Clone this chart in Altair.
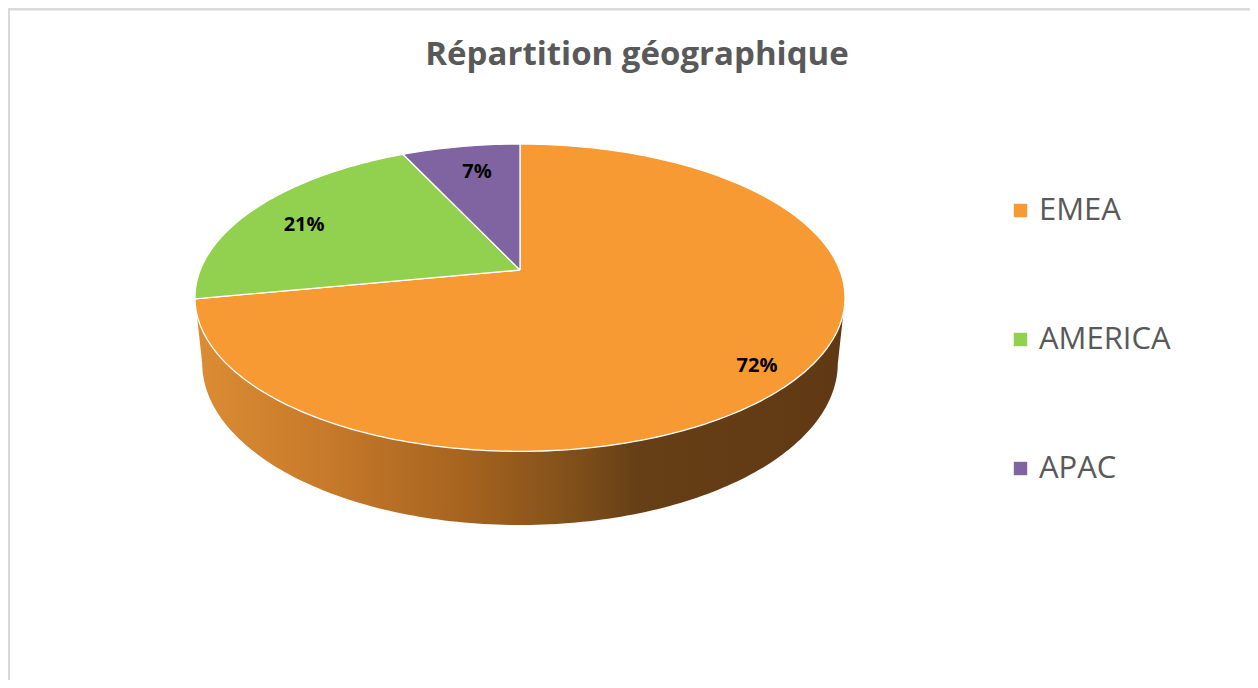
import numpy as np
import pandas as pd
import altair as alt

# ---- data ----
regions = ["EMEA", "AMERICA", "APAC"]
values = [72, 21, 7]
colors = ["#F89A33", "#92D050", "#8064A2"]
title_text = "Répartition géographique"

# ---- layout / projection (style, not data) ----
W, H = 1242, 672
CX, CY = 512, 262          # centre of the top face in view coords
D, F = 4.916, 1571.8       # camera distance and focal (radius = 1)
SIN = 0.465
COS = float(np.sqrt(1 - SIN ** 2))
DEPTH = 0.2334             # thickness of the pie
LABEL_R = 0.84


def proj(theta_deg, r=1.0, z=0.0):
    t = np.radians(theta_deg)
    X = r * np.sin(t)
    Y = -r * np.cos(t)
    d = D - Y * COS - z * SIN
    return CX + F * X / d, CY + F * (Y * SIN - z * COS) / d


total = float(sum(values))
starts = np.cumsum([0] + values[:-1]) / total * 360.0
ends = np.cumsum(values) / total * 360.0

# top-face slices
rows = []
lab_rows = []
for reg, v, a0, a1 in zip(regions, values, starts, ends):
    n = max(int((a1 - a0) / 1.0), 6)
    o = 0
    cx, cy = proj(0, r=0.0)
    rows.append({"region": reg, "o": o, "x": cx, "y": cy}); o += 1
    for th in np.linspace(a0, a1, n):
        x, y = proj(th)
        rows.append({"region": reg, "o": o, "x": x, "y": y}); o += 1
    rows.append({"region": reg, "o": o, "x": cx, "y": cy})
    lx, ly = proj((a0 + a1) / 2, r=LABEL_R)
    lab_rows.append({"region": reg, "label": f"{round(v / total * 100)}%", "x": lx, "y": ly})
slices = pd.DataFrame(rows)
labels_df = pd.DataFrame(lab_rows)

# visible side wall (front half between silhouettes)
sil = np.degrees(np.arcsin(COS / D))
th_side = np.linspace(90 + sil, 270 - sil, 160)
side_rows = []
o = 0
for th in th_side:
    x, y = proj(th)
    side_rows.append({"o": o, "x": x, "y": y}); o += 1
for th in th_side[::-1]:
    x, y = proj(th, z=-DEPTH)
    side_rows.append({"o": o, "x": x, "y": y}); o += 1
side_df = pd.DataFrame(side_rows)

xs = alt.Scale(domain=[0, W], nice=False, zero=False)
ys = alt.Scale(domain=[0, H], nice=False, zero=False, reverse=True)

side_grad = alt.Gradient(
    gradient="linear",
    stops=[
        alt.GradientStop(color="#DC8C33", offset=0.0),
        alt.GradientStop(color="#C77A2A", offset=0.2),
        alt.GradientStop(color="#A5631F", offset=0.42),
        alt.GradientStop(color="#80501A", offset=0.58),
        alt.GradientStop(color="#673F16", offset=0.68),
        alt.GradientStop(color="#603813", offset=1.0),
    ],
    x1=0, x2=1, y1=0, y2=0,
)

side = alt.Chart(side_df).mark_line(fill=side_grad, strokeOpacity=0).encode(
    x=alt.X("x:Q", scale=xs, axis=None),
    y=alt.Y("y:Q", scale=ys, axis=None),
    order=alt.Order("o:Q"),
)

top = alt.Chart(slices).mark_line(stroke="white", strokeWidth=1.3, strokeJoin="round").encode(
    x=alt.X("x:Q", scale=xs, axis=None),
    y=alt.Y("y:Q", scale=ys, axis=None),
    order=alt.Order("o:Q"),
    fill=alt.Fill(
        "region:N",
        scale=alt.Scale(domain=regions, range=colors),
        sort=regions,
        legend=alt.Legend(
            title=None,
            orient="none",
            legendX=997,
            legendY=187,
            symbolType="square",
            symbolSize=180,
            symbolStrokeWidth=0,
            symbolOpacity=1,
            labelFont="Open Sans",
            labelFontSize=31,
            labelColor="#595959",
            labelOffset=3,
            rowPadding=97,
            padding=0,
        ),
    ),
)

text = alt.Chart(labels_df).mark_text(
    font="Open Sans", fontSize=20, fontWeight="bold", color="#000000",
    align="center", baseline="middle", dx=8, dy=8,
).encode(
    x=alt.X("x:Q", scale=xs, axis=None),
    y=alt.Y("y:Q", scale=ys, axis=None),
    text="label:N",
)

title = alt.Chart(pd.DataFrame({"t": [title_text]})).mark_text(
    font="Open Sans", fontSize=33, fontWeight="bold", color="#595959",
    align="center", baseline="alphabetic",
).encode(x=alt.value(629), y=alt.value(57), text="t:N")

frame = pd.DataFrame({"a": [0]})
border_left = alt.Chart(frame).mark_rule(color="#D9D9D9", strokeWidth=2).encode(
    x=alt.value(1), y=alt.value(1), y2=alt.value(H)
)
border_top = alt.Chart(frame).mark_rule(color="#D9D9D9", strokeWidth=2).encode(
    y=alt.value(1.5), x=alt.value(0), x2=alt.value(W)
)

chart = (
    alt.layer(border_left, border_top, side, top, text, title)
    .properties(width=W, height=H, padding=0, autosize=alt.AutoSizeParams(type="none"))
    .configure_view(stroke=None)
    .configure(background="white")
)

chart.save("out.html", embed_options={"renderer": "svg", "actions": False})
